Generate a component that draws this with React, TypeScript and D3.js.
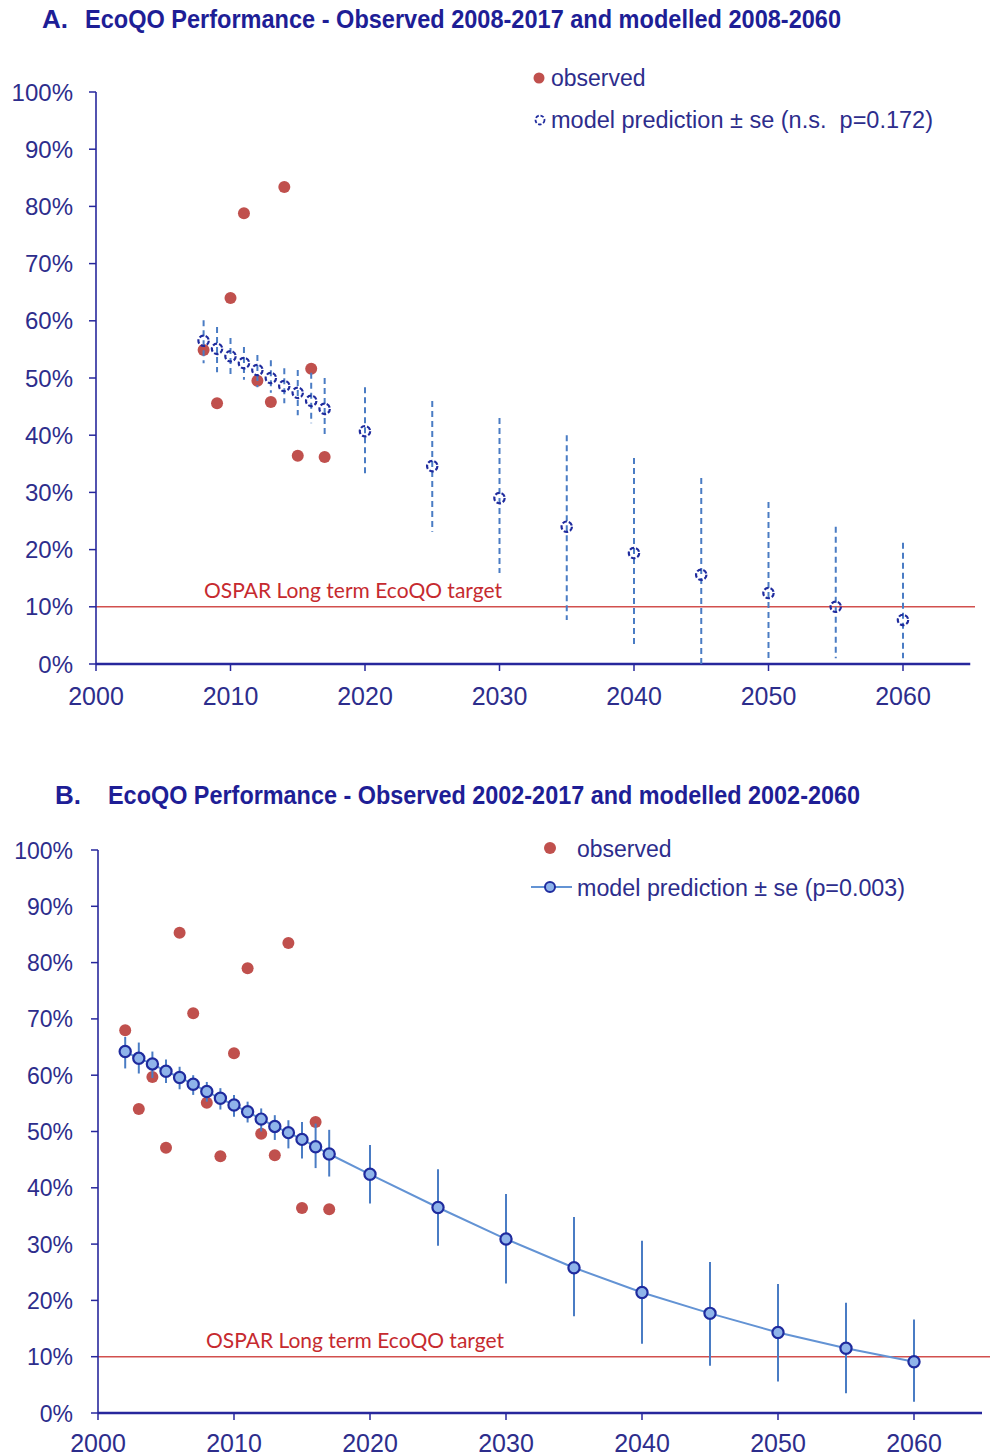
import React from 'react';
import * as d3 from 'd3';

// ---------- DATA ----------
const yTicks = [0, 10, 20, 30, 40, 50, 60, 70, 80, 90, 100];
const xTicks = [2000, 2010, 2020, 2030, 2040, 2050, 2060];
const targetValue = 10;
const targetLabel = 'OSPAR Long term EcoQO target';

// Panel A
const obsYearsA = [2008, 2009, 2010, 2011, 2012, 2013, 2014, 2015, 2016, 2017];
const obsValuesA = [54.9, 45.6, 64.0, 78.8, 49.5, 45.8, 83.4, 36.4, 51.6, 36.2];
const modelYearsA = [2008, 2009, 2010, 2011, 2012, 2013, 2014, 2015, 2016, 2017, 2020, 2025, 2030, 2035, 2040, 2045, 2050, 2055, 2060];
const modelValuesA = [56.5, 55.1, 53.8, 52.6, 51.4, 50.0, 48.6, 47.4, 46.0, 44.6, 40.7, 34.6, 29.0, 24.0, 19.4, 15.6, 12.4, 10.0, 7.7];
const modelLowerA = [52.6, 51.0, 50.5, 49.7, 48.4, 47.4, 45.6, 43.5, 42.1, 39.5, 33.0, 23.1, 15.9, 7.7, 3.0, 0.0, 1.0, 1.0, 1.0];
const modelUpperA = [60.1, 58.9, 57.0, 55.4, 54.0, 53.1, 51.7, 51.4, 50.9, 50.0, 48.4, 46.0, 43.0, 40.0, 36.0, 32.5, 28.3, 24.0, 21.2];

// Panel B
const obsYearsB = [2002, 2003, 2004, 2005, 2006, 2007, 2008, 2009, 2010, 2011, 2012, 2013, 2014, 2015, 2016, 2017];
const obsValuesB = [68.0, 54.0, 59.7, 47.1, 85.3, 71.0, 55.1, 45.6, 63.9, 79.0, 49.6, 45.8, 83.5, 36.4, 51.7, 36.2];
const modelYearsB = [2002, 2003, 2004, 2005, 2006, 2007, 2008, 2009, 2010, 2011, 2012, 2013, 2014, 2015, 2016, 2017, 2020, 2025, 2030, 2035, 2040, 2045, 2050, 2055, 2060];
const modelValuesB = [64.2, 63.0, 62.0, 60.7, 59.6, 58.4, 57.1, 55.9, 54.7, 53.5, 52.2, 50.9, 49.8, 48.6, 47.3, 46.0, 42.4, 36.5, 30.9, 25.8, 21.4, 17.7, 14.3, 11.5, 9.1];
const modelLowerB = [61.2, 60.3, 59.5, 58.6, 57.5, 56.5, 55.3, 53.9, 52.6, 51.6, 50.0, 48.5, 47.0, 45.2, 43.5, 42.0, 37.2, 29.7, 23.0, 17.2, 12.3, 8.4, 5.6, 3.5, 2.0];
const modelUpperB = [66.8, 65.8, 64.2, 62.8, 61.5, 60.0, 58.8, 57.7, 56.5, 55.3, 54.1, 52.9, 52.0, 51.7, 51.4, 50.3, 47.6, 43.3, 38.9, 34.8, 30.6, 26.8, 22.9, 19.6, 16.6];

// ---------- STYLE ----------
const AXIS = '#27279c';
const TICK_TEXT = '#2d2d8c';
const TITLE = '#1e1e96';
const RED = '#c0504d';
const TARGET_RED = '#d2504e';
const TARGET_TEXT = '#c62a2f';
const ERR_BLUE = '#4a7cc4';
const MARK_DARK = '#1f2b9e';
const LINE_BLUE = '#6393d4';
const MARK_FILL = '#8fb4ea';
const SANS = '"Liberation Sans", Arial, sans-serif';
const NARROW = '"Liberation Sans Narrow", "Arial Narrow", "Liberation Sans", Arial, sans-serif';
const CAL = 'Lato, "Open Sans", sans-serif';

type PanelProps = {
  x0: number; x1: number; y0: number; y1: number;
  yLabelSize: number; xLabelBase: number;
  obsYears: number[]; obsValues: number[];
  modelYears: number[]; modelValues: number[]; lower: number[]; upper: number[];
  variant: 'A' | 'B';
  targetTextX: number; targetTextY: number; targetLineEnd: number;
};

function Panel(p: PanelProps) {
  const x = d3.scaleLinear().domain([2000, 2065]).range([p.x0, p.x1]);
  const y = d3.scaleLinear().domain([0, 100]).range([p.y0, p.y1]);
  const axisX = x(2000);
  const line = d3.line<number>().x((_, i) => x(p.modelYears[i])).y((v) => y(v));
  return (
    <g>
      <line x1={axisX} x2={p.targetLineEnd} y1={y(targetValue)} y2={y(targetValue)} stroke={TARGET_RED} strokeWidth={1.6} />
      <text x={p.targetTextX} y={p.targetTextY} fill={TARGET_TEXT} fontFamily={CAL} fontSize={21} textLength={298} lengthAdjust="spacingAndGlyphs">{targetLabel}</text>

      <line x1={axisX} x2={axisX} y1={y(100)} y2={y(0)} stroke={AXIS} strokeWidth={1.6} />
      <line x1={axisX} x2={p.x1} y1={y(0)} y2={y(0)} stroke={AXIS} strokeWidth={2.4} />
      {yTicks.map((t) => (
        <g key={'yt' + t}>
          <line x1={axisX - 7} x2={axisX} y1={y(t)} y2={y(t)} stroke={AXIS} strokeWidth={1.5} />
          <text x={73} y={y(t) + 8.5} textAnchor="end" fill={TICK_TEXT} fontFamily={SANS} fontSize={p.yLabelSize}>{t + '%'}</text>
        </g>
      ))}
      {xTicks.map((t) => (
        <g key={'xt' + t}>
          <line x1={x(t)} x2={x(t)} y1={y(0)} y2={y(0) + 7} stroke={AXIS} strokeWidth={1.5} />
          <text x={x(t)} y={p.xLabelBase} textAnchor="middle" fill={TICK_TEXT} fontFamily={SANS} fontSize={25}>{String(t)}</text>
        </g>
      ))}

      {p.obsYears.map((yr, i) => (
        <circle key={'o' + yr} cx={x(yr)} cy={y(p.obsValues[i])} r={6} fill={RED} />
      ))}

      {p.variant === 'B' && (
        <path d={line(p.modelValues) || ''} fill="none" stroke={LINE_BLUE} strokeWidth={2} />
      )}
      {p.modelYears.map((yr, i) => (
        <line key={'e' + yr} x1={x(yr)} x2={x(yr)} y1={y(p.upper[i])} y2={y(p.lower[i])}
          stroke={ERR_BLUE} strokeWidth={2}
          strokeDasharray={p.variant === 'A' ? '6 4' : undefined} />
      ))}
      {p.modelYears.map((yr, i) => (
        p.variant === 'A' ? (
          <circle key={'m' + yr} cx={x(yr)} cy={y(p.modelValues[i])} r={5.2} fill="none" stroke={MARK_DARK} strokeWidth={2.2} strokeDasharray="4.5 2" />
        ) : (
          <circle key={'m' + yr} cx={x(yr)} cy={y(p.modelValues[i])} r={5.6} fill={MARK_FILL} stroke={MARK_DARK} strokeWidth={2.2} />
        )
      ))}
    </g>
  );
}

export default function App() {
  return (
    <svg width={990} height={1456} style={{ position: 'absolute', left: 0, top: 0, background: '#fff' }}>
      <rect x={0} y={0} width={990} height={1456} fill="#fff" />

      <text x={42} y={28} fill={TITLE} fontFamily={SANS} fontWeight="bold" fontSize={26}>A.</text>
      <text x={85} y={28} fill={TITLE} fontFamily={NARROW} fontWeight="bold" fontSize={26} textLength={756} lengthAdjust="spacingAndGlyphs">EcoQO Performance - Observed 2008-2017 and modelled 2008-2060</text>
      <text x={55} y={804} fill={TITLE} fontFamily={SANS} fontWeight="bold" fontSize={26}>B.</text>
      <text x={108} y={804} fill={TITLE} fontFamily={NARROW} fontWeight="bold" fontSize={26} textLength={752} lengthAdjust="spacingAndGlyphs">EcoQO Performance - Observed 2002-2017 and modelled 2002-2060</text>

      <Panel x0={96} x1={970.25} y0={664} y1={92} yLabelSize={24} xLabelBase={705}
        obsYears={obsYearsA} obsValues={obsValuesA}
        modelYears={modelYearsA} modelValues={modelValuesA} lower={modelLowerA} upper={modelUpperA}
        variant="A" targetTextX={204} targetTextY={598} targetLineEnd={975} />

      <Panel x0={98} x1={982} y0={1413} y1={850} yLabelSize={23} xLabelBase={1452}
        obsYears={obsYearsB} obsValues={obsValuesB}
        modelYears={modelYearsB} modelValues={modelValuesB} lower={modelLowerB} upper={modelUpperB}
        variant="B" targetTextX={206} targetTextY={1348} targetLineEnd={990} />

      <circle cx={539} cy={78} r={5.5} fill={RED} />
      <text x={551} y={86} fill={TICK_TEXT} fontFamily={SANS} fontSize={23}>observed</text>
      <circle cx={540} cy={120} r={4.5} fill="none" stroke={MARK_DARK} strokeWidth={1.8} strokeDasharray="3.5 1.8" />
      <text x={551} y={128} fill={TICK_TEXT} fontFamily={SANS} fontSize={23} textLength={382} lengthAdjust="spacingAndGlyphs" style={{ whiteSpace: 'pre' }}>{'model prediction ± se (n.s.  p=0.172)'}</text>

      <circle cx={550} cy={848} r={6} fill={RED} />
      <text x={577} y={857} fill={TICK_TEXT} fontFamily={SANS} fontSize={23}>observed</text>
      <line x1={531} x2={572} y1={887} y2={887} stroke={LINE_BLUE} strokeWidth={2} />
      <circle cx={550} cy={887} r={5} fill={MARK_FILL} stroke={MARK_DARK} strokeWidth={2} />
      <text x={577} y={896} fill={TICK_TEXT} fontFamily={SANS} fontSize={23} textLength={328} lengthAdjust="spacingAndGlyphs">model prediction ± se (p=0.003)</text>
    </svg>
  );
}
